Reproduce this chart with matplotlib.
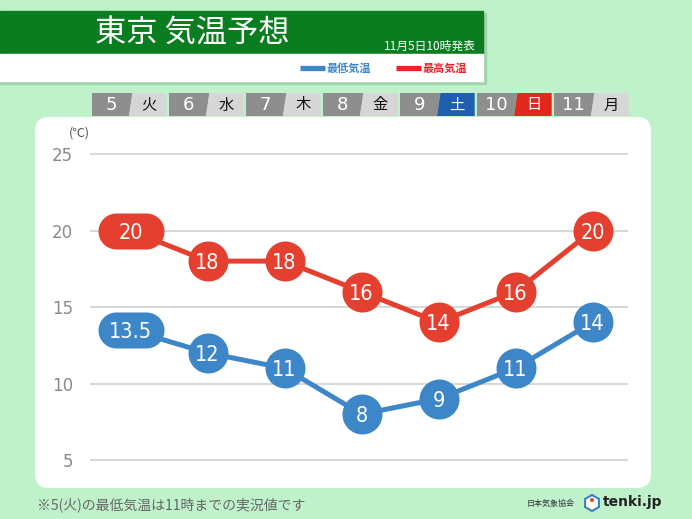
import numpy as np
import matplotlib
matplotlib.use('Agg')
import matplotlib.pyplot as plt
from matplotlib.patches import FancyBboxPatch, Polygon, Rectangle, RegularPolygon, Circle
from matplotlib.path import Path
from matplotlib.transforms import blended_transform_factory
from matplotlib import font_manager

# ---------------- data ----------------
days = ['5', '6', '7', '8', '9', '10', '11']
weekdays = ['火', '水', '木', '金', '土', '日', '月']
low = [13.5, 12, 11, 8, 9, 11, 14]
high = [20, 18, 18, 16, 14, 16, 20]
low_labels = ['13.5', '12', '11', '8', '9', '11', '14']
high_labels = ['20', '18', '18', '16', '14', '16', '20']
yticks = [5, 10, 15, 20, 25]
title = '東京 気温予想'
issued = '11月5日10時発表'
legend_low = '最低気温'
legend_high = '最高気温'
unit_label = '(℃)'
footnote = '※5(火)の最低気温は11時までの実況値です'
credit = '日本気象協会'
brand = 'tenki.jp'

# ---------------- style ----------------
plt.rcParams['font.family'] = ['Noto Sans CJK JP', 'DejaVu Sans']
BG = '#bff2cb'
GREEN = '#0a7d20'
RED = '#e5402f'
BLUE = '#3d86c8'
TAB_DARK = '#8e8e8e'
TAB_LIGHT = '#d6d6d6'
SPECIAL = {'土': '#1f5fae', '日': '#e0281e'}

names = {f.name for f in font_manager.fontManager.ttflist}
cond = [f for f in font_manager.fontManager.ttflist
        if 'Condensed' in f.fname or 'Narrow' in f.name or f.stretch in ('condensed', 'semi-condensed')]
if any('Liberation Sans Narrow' == f.name for f in cond):
    NUM_PROPS = dict(family='Liberation Sans Narrow')
elif any('DejaVuSansCondensed' in f.fname for f in cond):
    NUM_PROPS = dict(family='DejaVu Sans', fontstretch='condensed')
else:
    NUM_PROPS = dict(family='Roboto')

W, H = 692, 519
fig = plt.figure(figsize=(W / 100, H / 100), dpi=100, facecolor=BG)

bg = fig.add_axes([0, 0, 1, 1], zorder=0)
bg.set_xlim(0, W)
bg.set_ylim(H, 0)
bg.axis('off')

# header
bg.add_patch(Rectangle((0, 13), 486, 71, color='#a3d3ad', zorder=1))
bg.add_patch(Rectangle((0, 11), 483, 43, color=GREEN, zorder=2))
bg.add_patch(Rectangle((0, 54), 483, 27, color='white', zorder=2))
bg.text(192, 34, title, color='white', fontsize=22.5, ha='center', va='center', zorder=3)
bg.text(430, 46, issued, color='white', fontsize=8.5, ha='center', va='center', zorder=3)
bg.plot([300, 325], [68, 68], color=BLUE, lw=3.8, solid_capstyle='butt', zorder=3)
bg.text(327, 68, legend_low, color=BLUE, fontsize=8, fontweight='bold', ha='left', va='center', zorder=3)
bg.plot([396, 421], [68, 68], color='#e8262a', lw=3.8, solid_capstyle='butt', zorder=3)
bg.text(423, 68, legend_high, color='#e8262a', fontsize=8, fontweight='bold', ha='left', va='center', zorder=3)

# white panel
bg.add_patch(FancyBboxPatch((35, 117), 616, 371, boxstyle='round,pad=0,rounding_size=14',
                            fc='white', ec='none', zorder=1))

# footer
bg.text(37, 505, footnote, color='#666666', fontsize=10, ha='left', va='center', zorder=3)
bg.text(551, 503, credit, color='#333333', fontsize=5.8, ha='center', va='center', zorder=3)
bg.add_patch(RegularPolygon((592, 503), 6, radius=8, fc='white', ec='#3b7fc4', lw=1.5, zorder=3))
bg.add_patch(Circle((592, 500), 2, fc='#e5402f', ec='none', zorder=4))
bg.text(603, 502, brand, color='#222222', fontsize=10, fontweight='bold',
        family='DejaVu Sans', ha='left', va='center', zorder=3)

# ---------------- data axes ----------------
top_px, bot_px = 138.7, 483.0
ax = fig.add_axes([90 / W, (H - bot_px) / H, (628 - 90) / W, (bot_px - top_px) / H], zorder=2)
ax.patch.set_alpha(0)
x = np.arange(len(days))
ax.set_xlim(-0.526, 6.461)
ax.set_ylim(3.5, 26)
for s in ax.spines.values():
    s.set_visible(False)
ax.set_xticks([])
ax.set_yticks(yticks)
ax.set_yticklabels([str(v) for v in yticks], color='#8a8a8a', fontsize=12, family='DejaVu Sans')
ax.tick_params(axis='y', length=0, pad=12)
ax.hlines(yticks, -0.526, 6.461, color='#d4d4d4', lw=1.3, zorder=0)
ax.text(-0.526, 26.4, unit_label, transform=ax.transData, color='#555555', fontsize=9,
        ha='right', va='center')

# day tabs (x in data units, y in pixels)
tt = blended_transform_factory(ax.transData, bg.transData)
for i, (d, w) in enumerate(zip(days, weekdays)):
    bg.add_patch(Polygon([(i - 0.5, 116), (i - 0.5, 93), (i + 0.025, 93), (i - 0.02, 116)],
                         closed=True, fc=TAB_DARK, ec='none', transform=tt, zorder=0.5))
    bg.add_patch(Polygon([(i - 0.02, 116), (i + 0.025, 93), (i + 0.47, 93), (i + 0.47, 116)],
                         closed=True, fc=SPECIAL.get(w, TAB_LIGHT), ec='none', transform=tt, zorder=0.5))
    bg.text(i - 0.25, 105, d, transform=tt, color='white', fontsize=13, family='DejaVu Sans',
            ha='center', va='center', zorder=3)
    bg.text(i + 0.24, 105, w, transform=tt, color='white' if w in SPECIAL else '#111111',
            fontsize=11, ha='center', va='center', zorder=3)

# stadium marker for first points
r, c = 18, 15
t1 = np.linspace(-np.pi / 2, np.pi / 2, 40)
t2 = np.linspace(np.pi / 2, 3 * np.pi / 2, 40)
verts = np.concatenate([np.c_[c + r * np.cos(t1), r * np.sin(t1)],
                        np.c_[-c + r * np.cos(t2), r * np.sin(t2)]])
verts = np.vstack([verts, verts[0]])
codes = [Path.MOVETO] + [Path.LINETO] * (len(verts) - 2) + [Path.CLOSEPOLY]
pill = Path(verts, codes)

for vals, labels, col in [(high, high_labels, RED), (low, low_labels, BLUE)]:
    ax.plot(x, vals, color=col, lw=3.6, zorder=2, clip_on=False)
    ax.plot(x[1:], vals[1:], 'o', ms=28.8, color=col, mec='none', zorder=3, clip_on=False)
    ax.plot(x[:1], vals[:1], marker=pill, ms=47.5, color=col, mec='none', zorder=3,
            clip_on=False, ls='none')
    for xi, v, lab in zip(x, vals, labels):
        ax.text(xi, v, lab, color='white', fontsize=15.5, fontweight='medium',
                ha='center', va='center_baseline', zorder=4, **NUM_PROPS)

fig.savefig('out.png', dpi=100, facecolor=BG)
